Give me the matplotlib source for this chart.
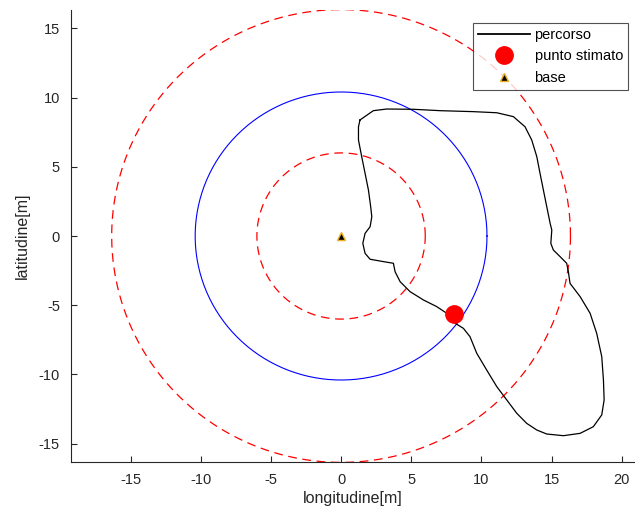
import numpy as np
import matplotlib.pyplot as plt

plt.rcParams['font.family'] = ['Liberation Sans', 'DejaVu Sans']
plt.rcParams['axes.unicode_minus'] = False

# Percorso misurato (longitudine, latitudine) in metri
path_lon = [1.35, 2.30, 3.26, 5.15, 7.06, 9.43, 11.10, 12.28, 13.11, 13.59,
            13.95, 14.18, 14.42, 14.66, 14.90, 15.02, 14.95, 15.13, 15.61, 16.08,
            16.20, 16.32, 17.04, 17.75, 18.22, 18.58, 18.70, 18.75, 18.58, 17.98,
            17.04, 15.85, 14.66, 13.95, 13.23, 12.52, 11.81, 11.10, 10.38, 9.67,
            9.19, 8.72, 8.13, 7.53, 6.82, 5.87, 4.92, 4.21, 3.85, 3.73,
            3.02, 2.07, 1.71, 1.55, 1.71, 2.07, 2.19, 2.11, 1.95, 1.71,
            1.47, 1.24, 1.24, 1.35]
path_lat = [8.38, 9.05, 9.17, 9.15, 9.05, 8.98, 8.90, 8.62, 7.89, 6.93,
            5.73, 4.53, 3.32, 2.12, 0.92, 0.43, -0.53, -1.01, -1.49, -1.97,
            -2.58, -3.42, -4.38, -5.58, -7.03, -8.71, -10.40, -11.84, -12.92, -13.77,
            -14.25, -14.42, -14.30, -14.01, -13.53, -12.80, -11.84, -10.88, -9.68, -8.47,
            -7.27, -6.67, -6.30, -5.58, -5.10, -4.62, -4.02, -3.30, -2.58, -1.97,
            -1.85, -1.68, -1.25, -0.53, 0.19, 0.67, 1.39, 2.12, 3.32, 4.53,
            5.73, 6.93, 7.89, 8.38]

base = (0.0, 0.0)
est_point = (8.07, -5.63)
r_est = 10.4          # distanza stimata
r_bounds = [6.0, 16.35]  # limiti di incertezza

fig = plt.figure(figsize=(6.35, 5.2), dpi=100)
ax = fig.add_axes([71 / 635, 58 / 520, 564 / 635, 452 / 520])

theta = np.linspace(0, 2 * np.pi, 400)
ax.plot(base[0] + r_est * np.cos(theta), base[1] + r_est * np.sin(theta),
        color='blue', lw=0.8)
for r in r_bounds:
    ax.plot(base[0] + r * np.cos(theta), base[1] + r * np.sin(theta),
            color='red', lw=0.9, dashes=(7, 4.5))

ax.plot(path_lon, path_lat, color='black', lw=0.9, label='percorso')
ax.plot(*est_point, 'o', color='red', mec='red', ms=12.5, label='punto stimato')
ax.plot(*base, '^', mfc='black', mec='#edb120', ms=6, mew=1, label='base')

ax.set_xlim(-19.25, 20.95)
ax.set_ylim(-16.32, 16.32)
ax.set_xticks(np.arange(-15, 21, 5))
ax.set_yticks(np.arange(-15, 16, 5))
for s in ['top', 'right']:
    ax.spines[s].set_visible(False)
for s in ['left', 'bottom']:
    ax.spines[s].set_color('#262626')
    ax.spines[s].set_linewidth(0.8)
ax.tick_params(direction='in', length=4, width=0.8, colors='#262626',
               labelsize=10.5, labelcolor='#262626', pad=8)
ax.set_xlabel('longitudine[m]', fontsize=11.5, color='#262626', labelpad=3)
ax.set_ylabel('latitudine[m]', fontsize=11.5, color='#262626', labelpad=6)

leg = ax.legend(loc='upper right', bbox_to_anchor=(628 / 635, 1 - 23 / 520),
                bbox_transform=fig.transFigure, fontsize=10.5, frameon=True,
                fancybox=False, edgecolor='#262626', borderpad=0.35,
                labelspacing=0.5, handlelength=3.6, handletextpad=0.3,
                borderaxespad=0)
leg.get_frame().set_linewidth(0.8)
leg.get_lines()[0].set_linewidth(1.3)

fig.savefig('out.png', dpi=100)
